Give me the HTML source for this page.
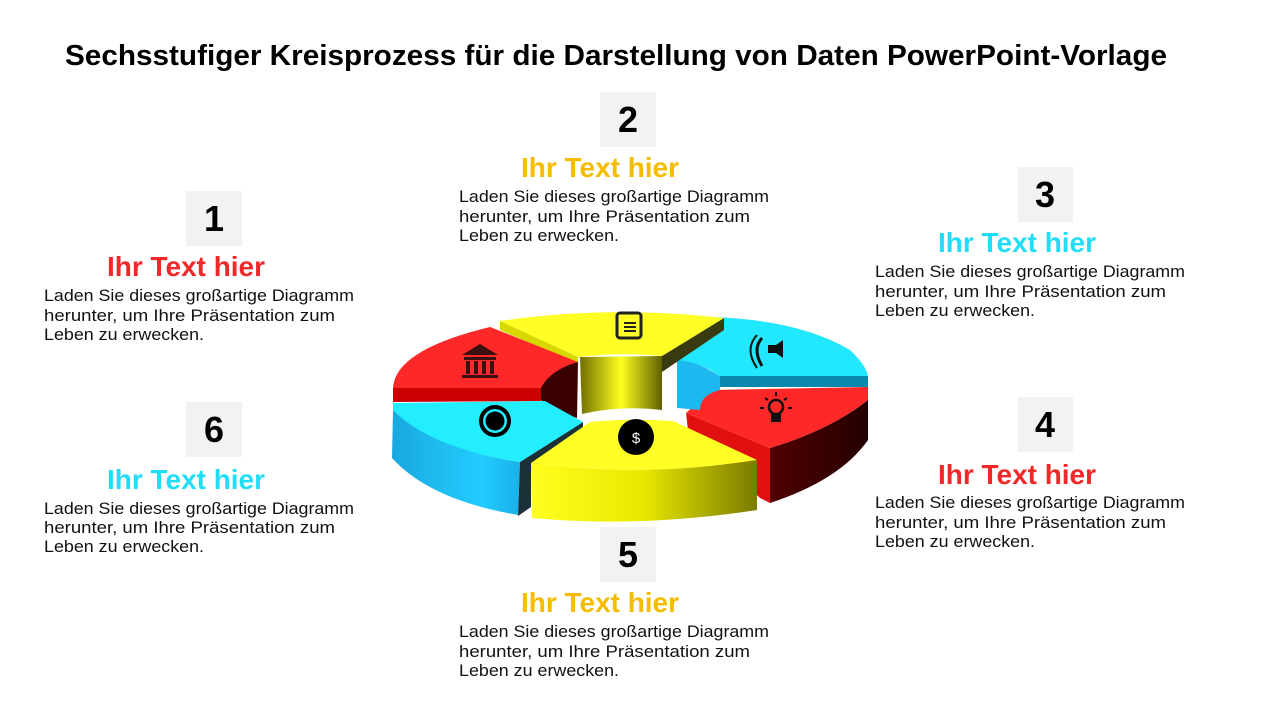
<!DOCTYPE html>
<html><head><meta charset="utf-8"><style>
html,body{margin:0;padding:0;background:#fff;width:1280px;height:720px;overflow:hidden}
text{font-family:"Liberation Sans",sans-serif}
.n{font-weight:bold;font-size:36px;fill:#000;text-anchor:middle}
.h{font-weight:bold;font-size:28px;text-anchor:middle}
.b{font-size:17px;fill:#111}
</style></head><body>
<svg width="1280" height="720" viewBox="0 0 1280 720" xmlns="http://www.w3.org/2000/svg">
<defs>
<linearGradient id="gy" x1="0" x2="1"><stop offset="0" stop-color="#ffff20"/><stop offset="0.5" stop-color="#e8e800"/><stop offset="1" stop-color="#7a7a00"/></linearGradient>
<linearGradient id="gyi" x1="0" x2="1"><stop offset="0" stop-color="#707000"/><stop offset="0.5" stop-color="#ffff20"/><stop offset="1" stop-color="#606000"/></linearGradient>
<linearGradient id="gc" x1="0" x2="1"><stop offset="0" stop-color="#1aa8e0"/><stop offset="0.7" stop-color="#22ccff"/><stop offset="1" stop-color="#1ab0e8"/></linearGradient>
<linearGradient id="gr" x1="0" x2="1"><stop offset="0" stop-color="#500000"/><stop offset="1" stop-color="#250000"/></linearGradient>
</defs>
<text x="65" y="65" font-weight="bold" font-size="29" textLength="1102" lengthAdjust="spacingAndGlyphs">Sechsstufiger Kreisprozess für die Darstellung von Daten PowerPoint-Vorlage</text>

<path d="M686,413 L770,448 L770,503 L760,498 L688,430 Z" fill="#e01010"/>
<path d="M770,448 Q830,430 868,400 L868,440 Q840,480 770,503 Z" fill="url(#gr)"/>
<path d="M686,413 L712,390 L868,387 L868,400 Q830,430 770,448 Z" fill="#ff2828"/>
<path d="M677,360 Q690,358 720,376 L720,390 Q700,395 700,410 L677,408 Z" fill="#1eb8f0"/>
<path d="M720,376 L868,376 L868,387 L720,387 Z" fill="#0a88b0"/>
<path d="M677,360 L712,317 Q800,320 850,350 Q866,365 868,376 L720,376 Q700,362 677,360 Z" fill="#22e8ff"/>
<path d="M580,357 L662,356 L662,410 Q620,405 582,414 Z" fill="url(#gyi)"/>
<path d="M662,356 L724,318 L724,330 L662,372 Z" fill="#3a3a10"/>
<path d="M500,321 Q610,305 724,318 L662,356 Q620,352 578,357 Z" fill="#ffff26"/>
<path d="M500,321 L578,357 L578,364 L500,330 Z" fill="#d8d800"/>
<path d="M541,382 Q555,366 578,362 L577,418 Q550,410 541,400 Z" fill="#3a0000"/>
<path d="M393,388 L541,388 L541,401 L393,402 Z" fill="#cc0000"/>
<path d="M393,388 Q395,350 490,327 L578,362 Q550,370 541,388 Z" fill="#ff2828"/>
<path d="M393,410 Q440,450 520,462 L518,515 Q430,500 392,458 Z" fill="url(#gc)"/>
<path d="M520,462 L583,422 L583,430 L531,470 L531,507 L518,516 Z" fill="#1c3038"/>
<path d="M393,403 L545,401 L583,422 L520,462 Q430,448 393,410 Z" fill="#22eeff"/>
<path d="M531,463 Q640,478 757,460 L757,510 Q640,528 532,518 Z" fill="url(#gy)"/>
<path d="M531,463 L590,422 Q630,418 673,421 L757,460 Q640,478 531,463 Z" fill="#ffff26"/>
<circle cx="636" cy="437" r="18" fill="#000"/>
<text x="636" y="443" font-size="15" fill="#fff" text-anchor="middle">$</text>
<circle cx="495" cy="421" r="16" fill="#000"/><circle cx="495" cy="421" r="12" fill="#22eeff"/><circle cx="495" cy="421" r="9.5" fill="#000"/>
<g fill="#3a1010"><path d="M462,355 L480,344 L498,355 Z"/><rect x="464" y="357" width="32" height="3"/><rect x="466" y="361" width="4" height="13"/><rect x="474" y="361" width="4" height="13"/><rect x="482" y="361" width="4" height="13"/><rect x="490" y="361" width="4" height="13"/><rect x="462" y="375" width="36" height="3"/></g>
<rect x="617" y="313" width="24" height="25" rx="3" fill="none" stroke="#222" stroke-width="3"/>
<g stroke="#222" stroke-width="2"><line x1="624" y1="323" x2="636" y2="323"/><line x1="624" y1="327" x2="636" y2="327"/><line x1="624" y1="331" x2="636" y2="331"/></g>
<path d="M768,345 L776,345 L783,340 L783,358 L776,353 L768,353 Z" fill="#111"/>
<path d="M762,338 Q752,349 762,366" stroke="#111" stroke-width="3" fill="none"/>
<path d="M757,335 Q744,349 757,368" stroke="#111" stroke-width="2" fill="none"/>
<circle cx="776" cy="407" r="7" fill="none" stroke="#111" stroke-width="2.5"/><rect x="771" y="413" width="10" height="9" fill="#111"/>
<g stroke="#111" stroke-width="2"><line x1="776" y1="392" x2="776" y2="396"/><line x1="765" y1="398" x2="768" y2="400"/><line x1="787" y1="398" x2="784" y2="400"/><line x1="760" y1="408" x2="764" y2="408"/><line x1="788" y1="408" x2="792" y2="408"/></g>

<g>
<rect x="186" y="191" width="56" height="55" fill="#f2f2f2"/><text class="n" x="214" y="231">1</text>
<text class="h" x="186" y="276" fill="#f02828" textLength="158" lengthAdjust="spacingAndGlyphs">Ihr Text hier</text>
<text class="b" x="44" y="301" textLength="310" lengthAdjust="spacingAndGlyphs">Laden Sie dieses großartige Diagramm</text>
<text class="b" x="44" y="321" textLength="291" lengthAdjust="spacingAndGlyphs">herunter, um Ihre Präsentation zum</text>
<text class="b" x="44" y="340" textLength="160" lengthAdjust="spacingAndGlyphs">Leben zu erwecken.</text>
</g>
<g>
<rect x="600" y="92" width="56" height="55" fill="#f2f2f2"/><text class="n" x="628" y="132">2</text>
<text class="h" x="600" y="177" fill="#f5bc00" textLength="158" lengthAdjust="spacingAndGlyphs">Ihr Text hier</text>
<text class="b" x="459" y="202" textLength="310" lengthAdjust="spacingAndGlyphs">Laden Sie dieses großartige Diagramm</text>
<text class="b" x="459" y="222" textLength="291" lengthAdjust="spacingAndGlyphs">herunter, um Ihre Präsentation zum</text>
<text class="b" x="459" y="241" textLength="160" lengthAdjust="spacingAndGlyphs">Leben zu erwecken.</text>
</g>
<g>
<rect x="1018" y="167" width="55" height="55" fill="#f2f2f2"/><text class="n" x="1045" y="207">3</text>
<text class="h" x="1017" y="252" fill="#22ddf8" textLength="158" lengthAdjust="spacingAndGlyphs">Ihr Text hier</text>
<text class="b" x="875" y="277" textLength="310" lengthAdjust="spacingAndGlyphs">Laden Sie dieses großartige Diagramm</text>
<text class="b" x="875" y="297" textLength="291" lengthAdjust="spacingAndGlyphs">herunter, um Ihre Präsentation zum</text>
<text class="b" x="875" y="316" textLength="160" lengthAdjust="spacingAndGlyphs">Leben zu erwecken.</text>
</g>
<g>
<rect x="1018" y="397" width="55" height="55" fill="#f2f2f2"/><text class="n" x="1045" y="437">4</text>
<text class="h" x="1017" y="484" fill="#f02828" textLength="158" lengthAdjust="spacingAndGlyphs">Ihr Text hier</text>
<text class="b" x="875" y="508" textLength="310" lengthAdjust="spacingAndGlyphs">Laden Sie dieses großartige Diagramm</text>
<text class="b" x="875" y="528" textLength="291" lengthAdjust="spacingAndGlyphs">herunter, um Ihre Präsentation zum</text>
<text class="b" x="875" y="547" textLength="160" lengthAdjust="spacingAndGlyphs">Leben zu erwecken.</text>
</g>
<g>
<rect x="600" y="527" width="56" height="55" fill="#f2f2f2"/><text class="n" x="628" y="567">5</text>
<text class="h" x="600" y="612" fill="#f5bc00" textLength="158" lengthAdjust="spacingAndGlyphs">Ihr Text hier</text>
<text class="b" x="459" y="637" textLength="310" lengthAdjust="spacingAndGlyphs">Laden Sie dieses großartige Diagramm</text>
<text class="b" x="459" y="657" textLength="291" lengthAdjust="spacingAndGlyphs">herunter, um Ihre Präsentation zum</text>
<text class="b" x="459" y="676" textLength="160" lengthAdjust="spacingAndGlyphs">Leben zu erwecken.</text>
</g>
<g>
<rect x="186" y="402" width="56" height="55" fill="#f2f2f2"/><text class="n" x="214" y="442">6</text>
<text class="h" x="186" y="489" fill="#22ddf8" textLength="158" lengthAdjust="spacingAndGlyphs">Ihr Text hier</text>
<text class="b" x="44" y="514" textLength="310" lengthAdjust="spacingAndGlyphs">Laden Sie dieses großartige Diagramm</text>
<text class="b" x="44" y="533" textLength="291" lengthAdjust="spacingAndGlyphs">herunter, um Ihre Präsentation zum</text>
<text class="b" x="44" y="552" textLength="160" lengthAdjust="spacingAndGlyphs">Leben zu erwecken.</text>
</g>
</svg>
</body></html>
